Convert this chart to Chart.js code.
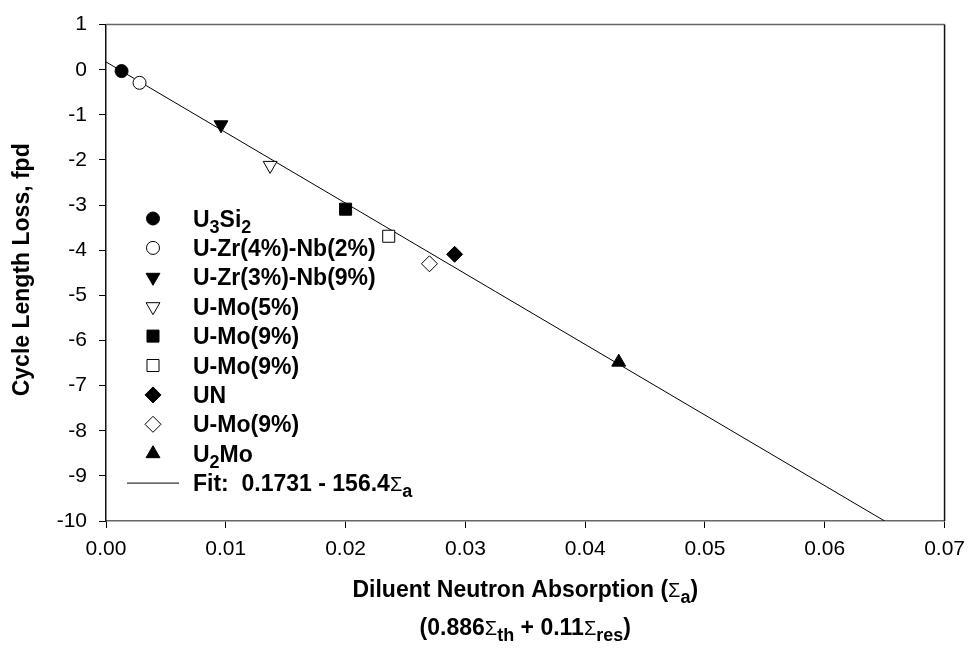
<!DOCTYPE html>
<html>
<head>
<meta charset="utf-8">
<script src="https://cdn.jsdelivr.net/npm/chart.js@4.4.0/dist/chart.umd.min.js"></script>
<style>
  body { margin: 0; background: #fff; }
  canvas { display: block; }
</style>
</head>
<body>
<canvas id="chart" width="974" height="648"></canvas>
<script>
const labels = ['U_3Si_2', 'U-Zr(4%)-Nb(2%)', 'U-Zr(3%)-Nb(9%)', 'U-Mo(5%)', 'U-Mo(9%)', 'U-Mo(9%)', 'UN', 'U-Mo(9%)', 'U_2Mo'];
const absorption = [0.0013, 0.0028, 0.0096, 0.0137, 0.0200, 0.0236, 0.0291, 0.0270, 0.0428];
const cycleLoss = [-0.03, -0.29, -1.22, -2.12, -3.09, -3.69, -4.09, -4.30, -6.48];
const markerStyles = ['circle', 'circle', 'triangle', 'triangle', 'rect', 'rect', 'rectRot', 'rectRot', 'triangle'];
const markerFilled = [true, false, true, false, true, false, true, false, true];

// fit line end points
const fitLabel = 'Fit:  0.1731 - 156.4Σ_a';
const fitX = [0, 0.065];
const fitY = [0.1731, -10.0];

const xTicks = [0, 0.01, 0.02, 0.03, 0.04, 0.05, 0.06, 0.07];
const xTitle = ['Diluent Neutron Absorption (Σ_a)', '(0.886Σ_{th} + 0.11Σ_{res})'];
const yTitle = 'Cycle Length Loss, fpd';

const FONT = "'Liberation Sans', Arial, sans-serif";

function markerOpts(i) {
  const s = markerStyles[i];
  let radius = 6.5;
  if (s === 'triangle') radius = 8;
  if (s === 'rect') radius = 8.5;
  if (s === 'rectRot') radius = 8;
  const down = s === 'triangle' && i < 4;
  return { pointStyle: s, radius: radius, rotation: down ? 180 : 0, borderWidth: 1 };
}

// split "U_3Si_2" style strings into plain / subscript / sigma runs
function parseRich(str) {
  const runs = [];
  let buf = '';
  let i = 0;
  const flush = () => { if (buf) { runs.push({ t: buf }); buf = ''; } };
  while (i < str.length) {
    const c = str[i];
    if (c === '_') {
      flush();
      if (str[i + 1] === '{') {
        const end = str.indexOf('}', i);
        runs.push({ t: str.slice(i + 2, end), sub: true });
        i = end + 1;
      } else {
        runs.push({ t: str[i + 1], sub: true });
        i += 2;
      }
      continue;
    }
    if (c === 'Σ') {
      flush();
      runs.push({ t: 'Σ', sym: true });
      i++;
      continue;
    }
    buf += c;
    i++;
  }
  flush();
  return runs;
}

function runFont(r, size) {
  if (r.sub) return 'bold ' + Math.round(size * 0.8) + 'px ' + FONT;
  if (r.sym) return Math.round(size * 0.85) + 'px ' + FONT;
  return 'bold ' + size + 'px ' + FONT;
}

function drawRich(ctx, str, x, y, size, align) {
  const runs = parseRich(str);
  let total = 0;
  runs.forEach(r => {
    ctx.font = runFont(r, size);
    r.w = ctx.measureText(r.t).width;
    total += r.w;
  });
  let cx = align === 'center' ? x - total / 2 : x;
  ctx.textAlign = 'left';
  ctx.textBaseline = 'alphabetic';
  runs.forEach(r => {
    ctx.font = runFont(r, size);
    ctx.fillText(r.t, cx, r.sub ? y + size * 0.27 : y);
    cx += r.w;
  });
}

const decorations = {
  id: 'decorations',
  afterDraw(chart) {
    const ctx = chart.ctx;
    const a = chart.chartArea;
    ctx.save();
    // frame top and right
    ctx.lineWidth = 1.5;
    ctx.strokeStyle = '#666';
    ctx.beginPath();
    ctx.moveTo(a.left, a.top);
    ctx.lineTo(a.right, a.top);
    ctx.stroke();
    ctx.strokeStyle = '#111';
    ctx.beginPath();
    ctx.moveTo(a.right, a.top);
    ctx.lineTo(a.right, a.bottom);
    ctx.stroke();

    ctx.fillStyle = '#000';
    // x title, two lines
    const cx = (a.left + a.right) / 2;
    drawRich(ctx, xTitle[0], cx, 597, 23, 'center');
    drawRich(ctx, xTitle[1], cx, 635, 23, 'center');

    // y title
    ctx.save();
    ctx.translate(23, (a.top + a.bottom) / 2 - 3);
    ctx.rotate(-Math.PI / 2);
    ctx.font = 'bold 23px ' + FONT;
    ctx.textAlign = 'center';
    ctx.textBaseline = 'middle';
    ctx.fillText(yTitle, 0, 0);
    ctx.restore();

    // legend inside the plot
    const mx = 153, tx = 193, y0 = 218.5, dy = 29.4;
    labels.forEach((lab, i) => {
      const y = y0 + i * dy;
      ctx.fillStyle = markerFilled[i] ? '#000' : '#fff';
      ctx.strokeStyle = '#000';
      ctx.lineWidth = 1;
      Chart.helpers.drawPoint(ctx, markerOpts(i), mx, y);
      ctx.fillStyle = '#000';
      drawRich(ctx, lab, tx, y + 8, 23, 'left');
    });
    const fy = y0 + labels.length * dy;
    ctx.strokeStyle = '#000';
    ctx.lineWidth = 1;
    ctx.beginPath();
    ctx.moveTo(127, fy);
    ctx.lineTo(179, fy);
    ctx.stroke();
    ctx.fillStyle = '#000';
    drawRich(ctx, fitLabel, tx, fy + 8, 23, 'left');
    ctx.restore();
  }
};

const pointSets = labels.map((lab, i) => {
  const m = markerOpts(i);
  return {
    label: lab,
    data: [{ x: absorption[i], y: cycleLoss[i] }],
    showLine: false,
    pointStyle: m.pointStyle,
    pointRadius: m.radius,
    pointRotation: m.rotation,
    pointBorderWidth: 1,
    pointBackgroundColor: markerFilled[i] ? '#000' : '#fff',
    pointBorderColor: '#000'
  };
});

const fitSet = {
  label: fitLabel,
  data: fitX.map((x, i) => ({ x: x, y: fitY[i] })),
  showLine: true,
  borderColor: '#000',
  borderWidth: 1,
  pointRadius: 0,
  order: 10
};

new Chart(document.getElementById('chart').getContext('2d'), {
  type: 'scatter',
  data: { datasets: [fitSet].concat(pointSets) },
  options: {
    responsive: false,
    animation: false,
    layout: { padding: { left: 0, right: 25, top: 15, bottom: 0 } },
    plugins: {
      legend: { display: false },
      tooltip: { enabled: false }
    },
    scales: {
      x: {
        type: 'linear',
        min: 0,
        max: 0.07,
        afterBuildTicks: s => { s.ticks = xTicks.map(v => ({ value: v })); },
        afterFit: s => { s.height = 127; },
        ticks: {
          callback: v => Number(v).toFixed(2),
          color: '#000',
          font: { family: FONT, size: 21 },
          padding: 9,
          maxRotation: 0
        },
        grid: { drawOnChartArea: false, tickLength: 7, color: '#000', tickColor: '#000' },
        border: { color: '#666', width: 1.5 }
      },
      y: {
        type: 'linear',
        min: -10,
        max: 1,
        afterFit: s => { s.width = 106; },
        ticks: {
          stepSize: 1,
          color: '#000',
          font: { family: FONT, size: 21 },
          padding: 12
        },
        grid: { drawOnChartArea: false, tickLength: 7, color: '#000', tickColor: '#000' },
        border: { color: '#111', width: 1.5 }
      }
    }
  },
  plugins: [decorations]
});
</script>
</body>
</html>
